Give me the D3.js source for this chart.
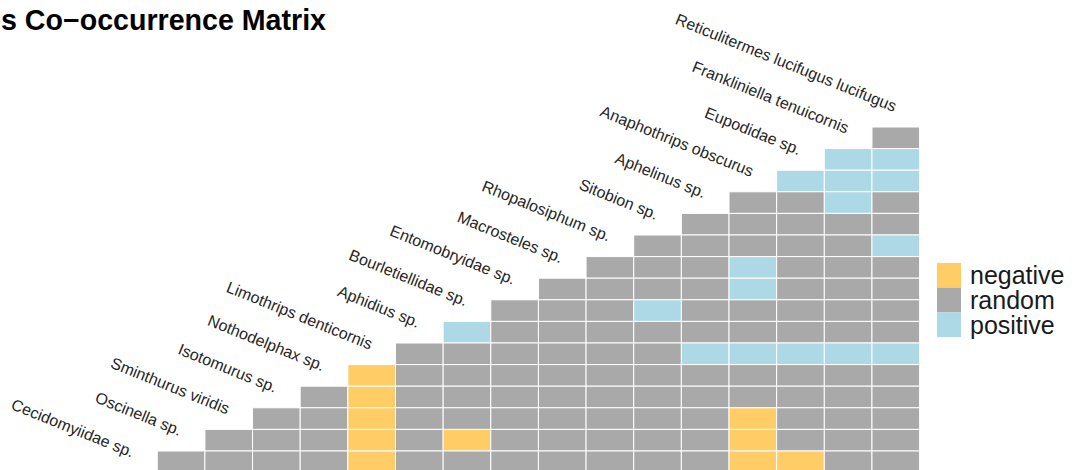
<!DOCTYPE html>
<html>
<head>
<meta charset="utf-8">
<script src="https://cdn.jsdelivr.net/npm/d3@7"></script>
<style>
  html, body { margin: 0; padding: 0; background: #fff; overflow: hidden; }
  svg { display: block; }
</style>
</head>
<body>
<svg id="chart" width="1072" height="470"></svg>
<script>
// ---- data ----
const title = "Species Co\u2212occurrence Matrix";
const species = [
  "Cecidomyiidae sp.", "Oscinella sp.", "Sminthurus viridis", "Isotomurus sp.",
  "Nothodelphax sp.", "Limothrips denticornis", "Aphidius sp.", "Bourletiellidae sp.",
  "Entomobryidae sp.", "Macrosteles sp.", "Rhopalosiphum sp.", "Sitobion sp.",
  "Aphelinus sp.", "Anaphothrips obscurus", "Eupodidae sp.", "Frankliniella tenuicornis",
  "Reticulitermes lucifugus lucifugus"
];
// each row lists cell types from its first species (index 16 - row) to the last species
// N = negative, R = random, P = positive
const matrixRows = [
  "R",
  "PP",
  "PPP",
  "RRPR",
  "RRRRR",
  "RRRRRP",
  "RRRPRRR",
  "RRRRPRRR",
  "RRRPRRRRR",
  "PRRRRRRRRR",
  "RRRRRRPPPPP",
  "NRRRRRRRRRRR",
  "RNRRRRRRRRRRR",
  "RRNRRRRRRRNRRR",
  "RRRNRNRRRRRNRRR",
  "RRRRNRRRRRRRNNRR"
];
const typeCodes = ["N", "R", "P"];
const typeNames = ["negative", "random", "positive"];
const typeColors = ["#FFCC66", "#A9A9A9", "#ADD8E6"];

// ---- drawing ----
const svg = d3.select("#chart");
const nSp = species.length;
const rowH = 21.6;

const x = d3.scaleBand().domain(species).range([109.6, 919.6]).padding(0);
const y = d3.scaleBand().domain(d3.range(nSp)).range([127, 127 + nSp * rowH]).padding(0);
const color = d3.scaleOrdinal().domain(typeCodes).range(typeColors);

const cells = [];
matrixRows.forEach((row, r) => {
  const start = nSp - 1 - r;
  row.split("").forEach((code, k) => {
    cells.push({ sp: species[start + k], row: r, code });
  });
});

svg.append("g")
  .selectAll("rect")
  .data(cells)
  .join("rect")
  .attr("x", d => x(d.sp))
  .attr("y", d => y(d.row))
  .attr("width", x.bandwidth())
  .attr("height", y.bandwidth())
  .attr("fill", d => color(d.code))
  .attr("stroke", "#ffffff")
  .attr("stroke-width", 1);

// diagonal species labels
const angle = 22;
svg.append("g")
  .selectAll("text")
  .data(species)
  .join("text")
  .attr("transform", (d, i) => {
    const cx = x(d) + x.bandwidth() / 2;
    const cy = y(nSp - 1 - i) - rowH + 1.5;
    return `translate(${cx},${cy}) rotate(${angle})`;
  })
  .attr("text-anchor", "end")
  .attr("dy", "0.35em")
  .attr("font-family", "'Liberation Sans', Arial, sans-serif")
  .attr("font-size", 16)
  .attr("fill", "#262626")
  .text(d => d);

// title (cropped at the left, as in the reference)
svg.append("text")
  .attr("x", 326)
  .attr("y", 30)
  .attr("text-anchor", "end")
  .attr("font-family", "'Liberation Sans', Arial, sans-serif")
  .attr("font-weight", "bold")
  .attr("font-size", 28.6)
  .attr("fill", "#000")
  .text(title);

// legend
const lg = svg.append("g").attr("transform", "translate(937,263)");
const keyH = 24.7;
const item = lg.selectAll("g")
  .data(typeCodes)
  .join("g")
  .attr("transform", (d, i) => `translate(0,${i * keyH})`);
item.append("rect")
  .attr("width", 24)
  .attr("height", keyH)
  .attr("fill", d => color(d));
item.append("text")
  .attr("x", 33)
  .attr("y", keyH / 2)
  .attr("dy", "0.35em")
  .attr("font-family", "'Liberation Sans', Arial, sans-serif")
  .attr("font-size", 25)
  .attr("fill", "#1a1a1a")
  .text((d, i) => typeNames[i]);
</script>
</body>
</html>
